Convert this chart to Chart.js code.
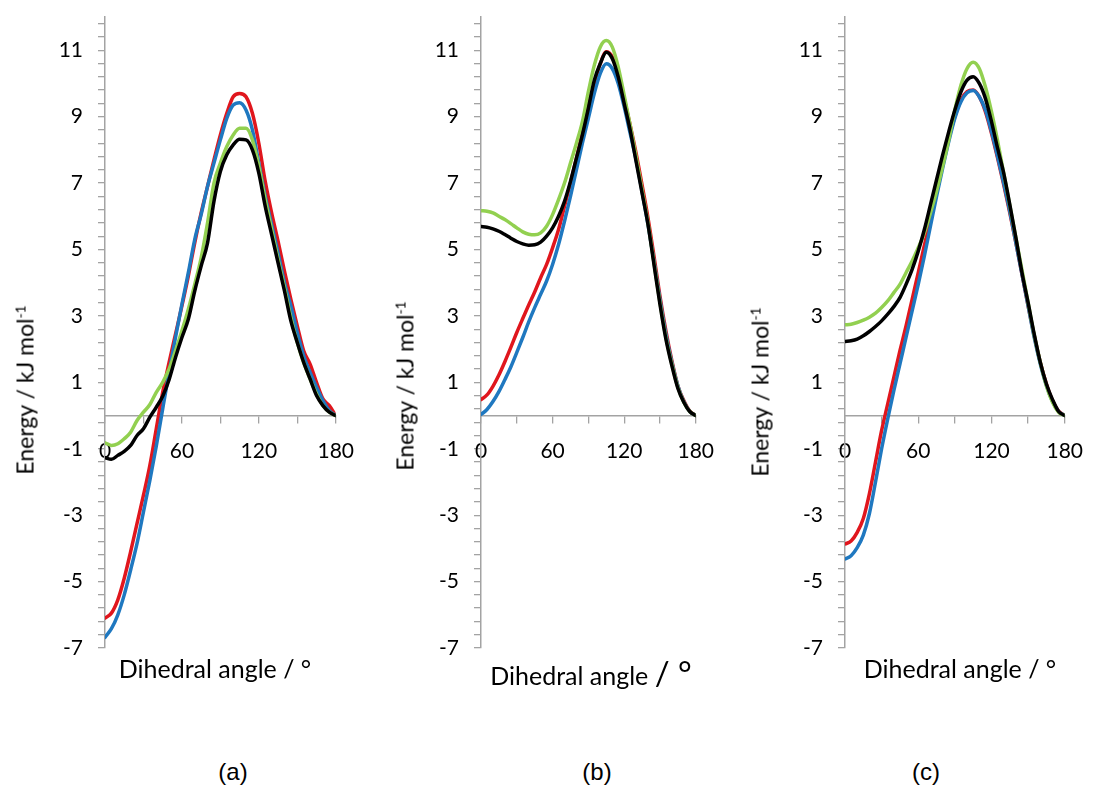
<!DOCTYPE html>
<html>
<head>
<meta charset="utf-8">
<script src="https://cdn.jsdelivr.net/npm/chart.js@4.4.0/dist/chart.umd.min.js"></script>
<style>
  html, body { margin: 0; padding: 0; background: #ffffff; }
  body { width: 1099px; height: 790px; position: relative; overflow: hidden; font-family: Lato, "Open Sans", sans-serif; color: #000; }
  canvas { position: absolute; top: 0; }
  .ytitle { position: absolute; transform: translate(-50%, -50%) rotate(-90deg); white-space: nowrap; font-size: 23px; line-height: 1; }
  .ytitle sup { font-size: 0.6em; vertical-align: 0.6em; line-height: 0; }
  .xtitle { position: absolute; transform: translateX(-50%); white-space: nowrap; font-size: 25px; line-height: 1; }
  .big { font-size: 33px; }
  .plabel { position: absolute; transform: translate(-50%, -50%); font-family: "Liberation Sans", Arial, sans-serif; font-size: 24px; line-height: 1; }
</style>
</head>
<body>
<canvas id="pa" width="370" height="700" style="left:0px"></canvas>
<canvas id="pb" width="360" height="700" style="left:370px"></canvas>
<canvas id="pc" width="369" height="700" style="left:730px"></canvas>

<div class="ytitle" style="left:25px; top:390px;">Energy / kJ mol<sup>-1</sup></div>
<div class="ytitle" style="left:405px; top:386px;">Energy / kJ mol<sup>-1</sup></div>
<div class="ytitle" style="left:760px; top:392px;">Energy / kJ mol<sup>-1</sup></div>

<div class="xtitle" style="left:215px; top:656px;">Dihedral angle / °</div>
<div class="xtitle" style="left:591px; top:656px;">Dihedral angle <span class="big">/ °</span></div>
<div class="xtitle" style="left:960px; top:656px;">Dihedral angle / °</div>

<div class="plabel" style="left:233px; top:772px;">(a)</div>
<div class="plabel" style="left:597px; top:772px;">(b)</div>
<div class="plabel" style="left:926px; top:772px;">(c)</div>

<script>
// ---------- data ----------
const angles = [0,5,10,15,20,25,30,35,40,45,50,55,60,65,70,75,80,85,90,95,100,105,110,115,120,125,130,135,140,145,150,155,160,165,170,175,180];

const xTickValues = [0,30,60,90,120,150,180];
const xTickLabels = [0,60,120,180];
const yTickLabels = [-7,-5,-3,-1,1,3,5,7,9,11];

// panel (a)
const aRed   = [-6.1,-5.95,-5.55,-4.9,-4.1,-3.25,-2.4,-1.5,-0.4,0.7,1.6,2.45,3.3,4.2,5.2,6.1,6.9,7.7,8.45,9.1,9.6,9.7,9.6,9.1,8.2,7.05,6.1,5.25,4.35,3.5,2.7,1.95,1.55,1.0,0.5,0.3,0];
const aBlue  = [-6.68,-6.42,-6.0,-5.4,-4.65,-3.85,-2.9,-1.95,-0.92,0.2,1.3,2.35,3.35,4.3,5.3,6.05,6.9,7.6,8.3,8.95,9.35,9.42,9.2,8.6,7.6,6.6,5.75,4.9,4.0,3.3,2.5,1.8,1.3,0.85,0.45,0.15,0];
const aGreen = [-0.82,-0.9,-0.85,-0.7,-0.5,-0.15,0.1,0.33,0.7,1.0,1.4,1.95,2.55,3.2,3.95,4.75,5.8,7.0,7.6,8.1,8.45,8.65,8.65,8.3,7.5,6.5,5.6,4.7,3.85,2.95,2.2,1.6,1.1,0.65,0.3,0.1,0];
const aBlack = [-1.27,-1.32,-1.2,-1.08,-0.9,-0.6,-0.4,-0.05,0.25,0.58,1.08,1.75,2.35,2.9,3.75,4.5,5.2,6.45,7.35,7.85,8.15,8.32,8.3,8.0,7.3,6.3,5.45,4.6,3.75,2.85,2.2,1.6,1.1,0.6,0.3,0.1,0];

// panel (b)
const bRed   = [0.48,0.62,0.88,1.22,1.62,2.05,2.5,2.92,3.33,3.72,4.15,4.55,5.05,5.6,6.3,7.0,7.75,8.5,9.3,10.0,10.6,10.95,10.8,10.3,9.55,8.75,7.9,6.95,5.95,4.8,3.6,2.55,1.65,0.9,0.45,0.13,0];
const bBlue  = [0.03,0.18,0.42,0.72,1.08,1.46,1.9,2.35,2.82,3.25,3.65,4.05,4.55,5.15,5.85,6.6,7.4,8.2,8.95,9.7,10.3,10.59,10.45,10.0,9.3,8.5,7.7,6.75,5.75,4.65,3.5,2.45,1.6,0.9,0.42,0.12,0];
const bGreen = [6.17,6.15,6.1,6.0,5.9,5.78,5.65,5.53,5.46,5.44,5.5,5.7,6.05,6.5,7.0,7.6,8.2,8.85,9.75,10.55,11.1,11.29,11.1,10.5,9.65,8.75,7.8,6.8,5.8,4.6,3.4,2.35,1.55,0.85,0.4,0.12,0];
const bBlack = [5.69,5.67,5.62,5.55,5.45,5.34,5.24,5.17,5.13,5.14,5.22,5.4,5.65,6.0,6.45,7.05,7.75,8.45,9.25,10.1,10.6,10.94,10.75,10.2,9.4,8.6,7.65,6.7,5.75,4.55,3.35,2.3,1.5,0.82,0.4,0.12,0];

// panel (c)
const cRed   = [-3.87,-3.78,-3.52,-3.1,-2.35,-1.4,-0.45,0.35,1.15,1.95,2.7,3.5,4.3,5.12,5.95,6.8,7.6,8.35,9.0,9.5,9.75,9.8,9.6,9.15,8.5,7.75,6.95,6.1,5.2,4.25,3.3,2.4,1.6,0.95,0.45,0.13,0];
const cBlue  = [-4.32,-4.22,-3.98,-3.6,-2.95,-2.0,-1.0,-0.1,0.75,1.55,2.35,3.15,3.95,4.8,5.7,6.6,7.45,8.25,8.95,9.45,9.72,9.79,9.6,9.2,8.55,7.8,7.0,6.15,5.2,4.25,3.3,2.35,1.55,0.9,0.42,0.12,0];
const cGreen = [2.73,2.75,2.8,2.87,2.96,3.08,3.25,3.45,3.7,3.95,4.3,4.65,5.05,5.5,6.1,6.75,7.5,8.3,9.2,9.95,10.45,10.64,10.45,9.9,9.15,8.27,7.3,6.33,5.35,4.38,3.4,2.43,1.6,0.9,0.4,0.1,0];
const cBlack = [2.23,2.25,2.3,2.4,2.53,2.68,2.85,3.05,3.28,3.55,3.95,4.4,4.95,5.6,6.35,7.1,7.85,8.55,9.2,9.75,10.1,10.2,10.0,9.55,8.85,8.05,7.3,6.35,5.35,4.3,3.4,2.45,1.6,0.95,0.48,0.12,0];

// ---------- style ----------
const colRed = '#e0161d';
const colBlue = '#1f78c0';
const colGreen = '#92d050';
const colBlack = '#000000';
const axisGray = '#a3a3a3';

// minor tick positions on the energy axis (every 0.4 from -7)
const yTickValues = Array.from({length: 48}, (_, i) => Math.round((-7 + i * 0.4) * 10) / 10);

function pts(vals) { return angles.map((a, i) => ({x: a, y: vals[i]})); }

function makePanel(id, red, blue, green, black, yWidth, rightPad) {
  const ctx = document.getElementById(id);
  new Chart(ctx, {
    type: 'line',
    data: {
      datasets: [
        {data: pts(red),   borderColor: colRed,   order: 4},
        {data: pts(blue),  borderColor: colBlue,  order: 3},
        {data: pts(green), borderColor: colGreen, order: 2},
        {data: pts(black), borderColor: colBlack, order: 1}
      ]
    },
    options: {
      responsive: false,
      animation: false,
      events: [],
      layout: {padding: {left: 0, top: 17, right: rightPad, bottom: 52}},
      plugins: {legend: {display: false}, tooltip: {enabled: false}, title: {display: false}},
      elements: {
        point: {radius: 0},
        line: {borderWidth: 3.5, cubicInterpolationMode: 'monotone', fill: false, borderCapStyle: 'round', borderJoinStyle: 'round'}
      },
      scales: {
        x: {
          type: 'linear', min: 0, max: 180,
          position: {y: 0},
          afterBuildTicks: (s) => { s.ticks = xTickValues.map(v => ({value: v})); },
          ticks: {
            autoSkip: false, maxRotation: 0, padding: 16, color: '#000',
            font: {family: 'Lato', size: 21},
            callback: (v) => xTickLabels.includes(v) ? String(v) : ''
          },
          grid: {drawOnChartArea: false, drawTicks: true, tickLength: 7, tickColor: axisGray, color: axisGray, lineWidth: 1.3},
          border: {display: true, color: axisGray, width: 1.5}
        },
        y: {
          type: 'linear', min: -7, max: 12, position: 'left',
          afterBuildTicks: (s) => { s.ticks = yTickValues.map(v => ({value: v})); },
          afterFit: (s) => { s.width = yWidth; s.paddingTop = 0; s.paddingBottom = 0; },
          ticks: {
            autoSkip: false, padding: 15, color: '#000',
            font: {family: 'Lato', size: 21},
            callback: (v) => yTickLabels.includes(Math.round(v * 10) / 10) ? String(Math.round(v)) : ''
          },
          grid: {drawOnChartArea: false, drawTicks: true, tickLength: 7, tickColor: axisGray, color: axisGray, lineWidth: 1.3},
          border: {display: true, color: axisGray, width: 1.5}
        }
      }
    }
  });
}

makePanel('pa', aRed, aBlue, aGreen, aBlack, 105, 32);
makePanel('pb', bRed, bBlue, bGreen, bBlack, 111, 33);
makePanel('pc', cRed, cBlue, cGreen, cBlack, 115, 21);
</script>
</body>
</html>
